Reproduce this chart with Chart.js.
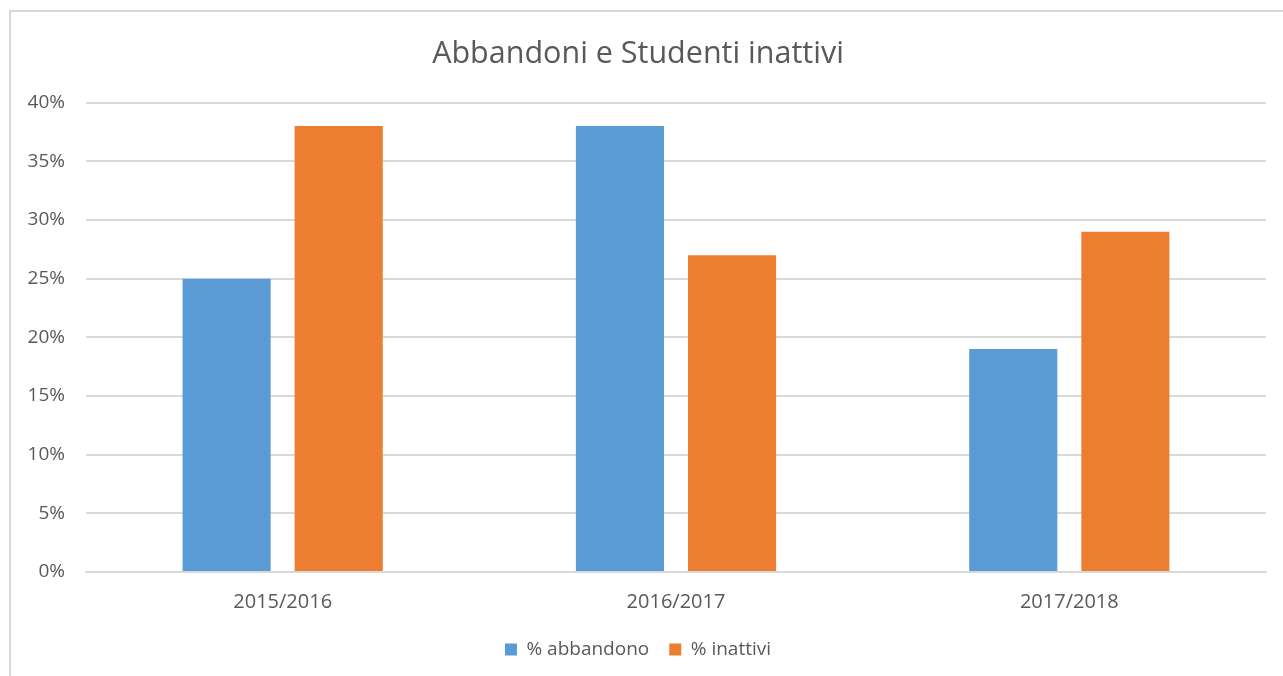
<!DOCTYPE html>
<html>
<head>
<meta charset="utf-8">
<script src="https://cdn.jsdelivr.net/npm/chart.js@4"></script>
<style>
  html, body { margin: 0; padding: 0; background: #fff; }
  #wrap { position: relative; width: 1283px; height: 676px; }
  #frame { position: absolute; left: 9px; top: 10px; right: -5px; bottom: -5px;
           border-left: 2px solid #d9d9d9; border-top: 2px solid #d9d9d9; }
  canvas { position: absolute; left: 0; top: 0; }
</style>
</head>
<body>
<div id="wrap">
  <div id="frame"></div>
  <canvas id="graph" width="1283" height="676"></canvas>
</div>
<script>
// data
const categories = ['2015/2016', '2016/2017', '2017/2018'];
const abbandono = [25, 38, 19];
const inattivi = [38, 27, 29];
const seriesNames = ['% abbandono', '% inattivi'];

const textColor = '#595959';
const gridColor = '#d9d9d9';

let container = document.getElementById('graph');
let graph = new Chart(container, {
    type: 'bar',
    data: {
        labels: categories,
        datasets: [{
            label: seriesNames[0],
            backgroundColor: '#5b9bd5',
            data: abbandono
        }, {
            label: seriesNames[1],
            backgroundColor: '#ed7d31',
            data: inattivi
        }]
    },
    options: {
        responsive: false,
        animation: false,
        categoryPercentage: 0.57,
        barPercentage: 0.786,
        layout: {
            padding: {left: 10, right: 17, top: 36, bottom: 7}
        },
        plugins: {
            title: {
                display: true,
                text: 'Abbandoni e Studenti inattivi',
                color: textColor,
                font: {family: 'Open Sans', size: 30.5, weight: 'normal'},
                padding: {top: 0, bottom: 30}
            },
            legend: {
                position: 'bottom',
                labels: {
                    color: textColor,
                    font: {family: 'Open Sans', size: 19},
                    boxWidth: 12,
                    boxHeight: 12,
                    padding: 20
                }
            },
            tooltip: {enabled: false}
        },
        scales: {
            x: {
                // let the legend sit closer to the category labels
                afterFit: function(scale) { scale.height = scale.height - 12; },
                grid: {display: false, drawTicks: false},
                border: {color: gridColor, width: 2},
                ticks: {color: textColor, font: {family: 'Open Sans', size: 20}, padding: 18}
            },
            y: {
                min: 0,
                max: 40,
                afterFit: function(scale) { scale.width = 76; },
                grid: {color: gridColor, lineWidth: 2, drawTicks: false},
                border: {display: false},
                ticks: {
                    stepSize: 5,
                    color: textColor,
                    font: {family: 'Open Sans', size: 19},
                    padding: 21,
                    callback: function(v) { return v + '%'; }
                }
            }
        }
    }
});
</script>
</body>
</html>
